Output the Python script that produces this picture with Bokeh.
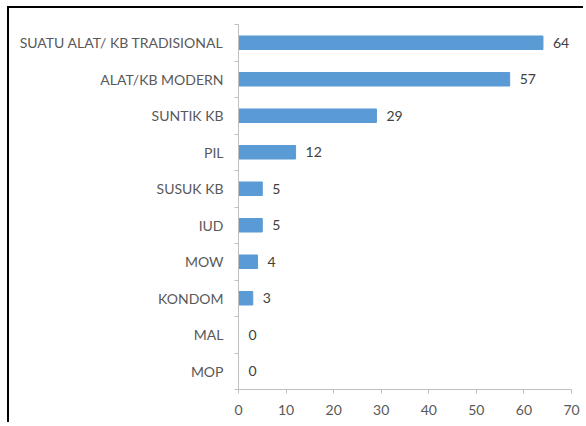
from bokeh.plotting import figure
from bokeh.models import ColumnDataSource, Range1d, FixedTicker
from bokeh.core.properties import value
from bokeh.embed import file_html
from bokeh.resources import INLINE

categories = ["SUATU ALAT/ KB TRADISIONAL", "ALAT/KB MODERN", "SUNTIK KB", "PIL",
              "SUSUK KB", "IUD", "MOW", "KONDOM", "MAL", "MOP"]
values = [64, 57, 29, 12, 5, 5, 4, 3, 0, 0]
x_ticks = [0, 10, 20, 30, 40, 50, 60, 70]

n = len(categories)
ypos = [n - 1 - i for i in range(n)]
src = ColumnDataSource(dict(cat=categories, val=values, y=ypos,
                            lbl=[str(v) for v in values]))

FONT = "Lato"
GREY = "#595959"

p = figure(width=576, height=416, x_range=Range1d(0, 70), y_range=Range1d(-0.5, n - 0.5),
           output_backend="svg", toolbar_location=None,
           min_border_left=229, min_border_top=16, min_border_bottom=35, min_border_right=14)

p.hbar(y="y", right="val", left=0, height=0.37, source=src,
       fill_color="#5B9BD5", line_color="#5B9BD5")
p.text(x="val", y="y", text="lbl", source=src, x_offset=10, text_align="left",
       text_baseline="middle", text_font=value(FONT), text_font_size="14px",
       text_color="#404040")

p.xgrid.visible = False
p.ygrid.visible = False
p.outline_line_color = None

p.xaxis.ticker = FixedTicker(ticks=x_ticks)
p.xaxis.axis_line_color = "#BFBFBF"
p.xaxis.major_tick_line_color = "#BFBFBF"
p.xaxis.major_tick_out = 4
p.xaxis.major_tick_in = 0
p.xaxis.minor_tick_line_color = None
p.xaxis.major_label_text_font = FONT
p.xaxis.major_label_text_font_size = "14px"
p.xaxis.major_label_text_color = GREY
p.xaxis.major_label_standoff = 11

p.yaxis.ticker = FixedTicker(ticks=ypos, minor_ticks=[k - 0.5 for k in range(n + 1)])
p.yaxis.major_label_overrides = {y: c for y, c in zip(ypos, categories)}
p.yaxis.axis_line_color = "#BFBFBF"
p.yaxis.major_tick_line_color = None
p.yaxis.major_tick_out = 0
p.yaxis.major_tick_in = 0
p.yaxis.minor_tick_line_color = "#BFBFBF"
p.yaxis.minor_tick_out = 4
p.yaxis.minor_tick_in = 0
p.yaxis.major_label_text_font = FONT
p.yaxis.major_label_text_font_size = "14px"
p.yaxis.major_label_text_color = GREY
p.yaxis.major_label_standoff = 11

p.styles = {"border-left": "2px solid #000", "border-top": "2px solid #000",
            "margin-left": "7px", "margin-top": "6px"}

open("out.html", "w").write(file_html(p, INLINE))
